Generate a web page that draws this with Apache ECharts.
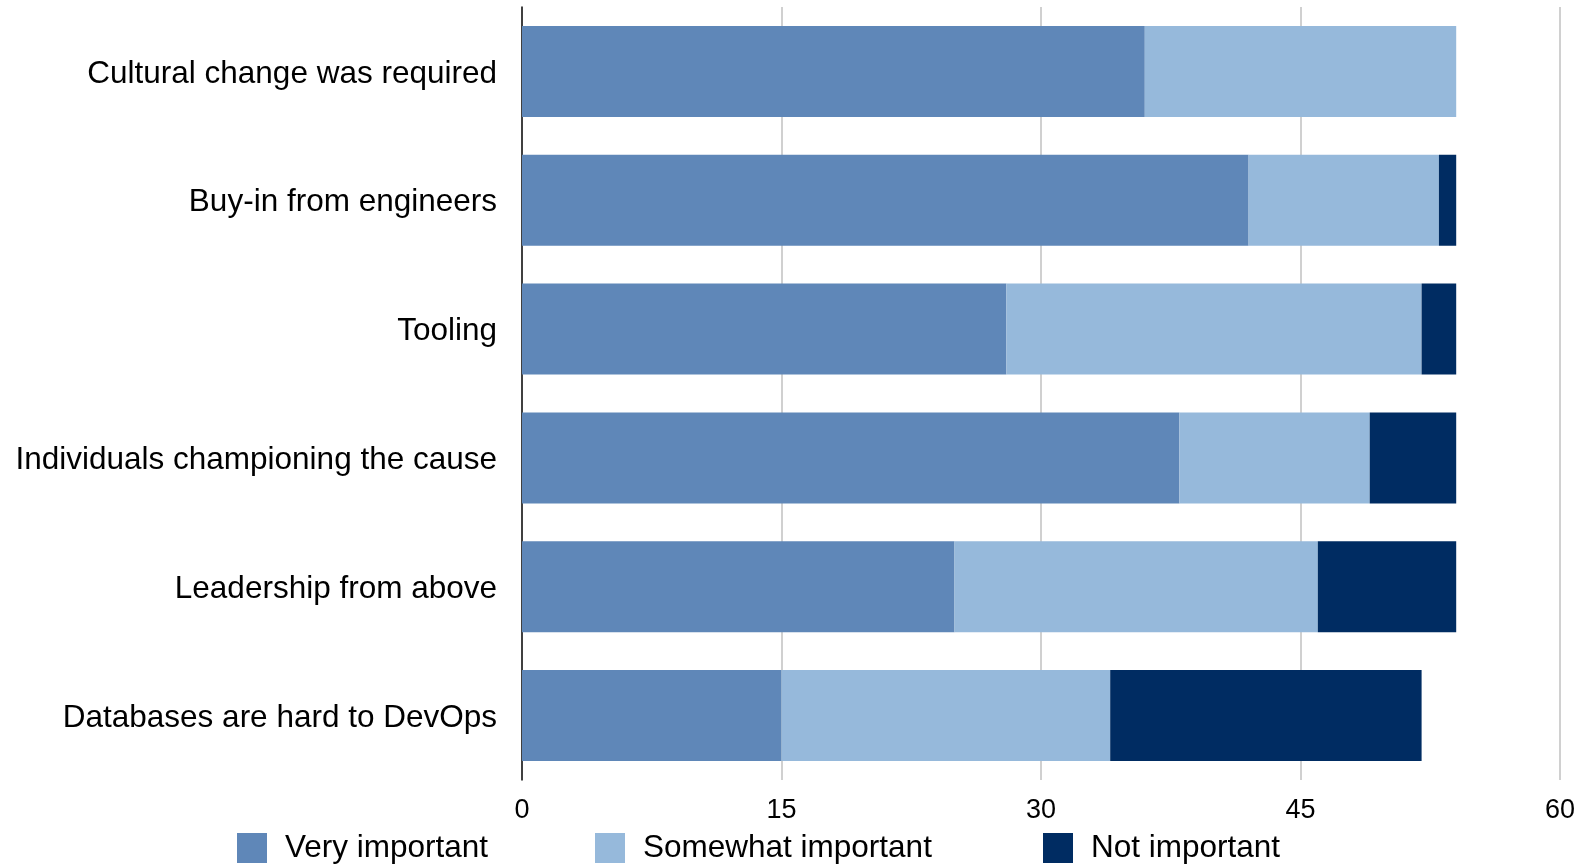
<!DOCTYPE html>
<html>
<head>
<meta charset="utf-8">
<script src="https://cdn.jsdelivr.net/npm/echarts@6/dist/echarts.min.js"></script>
<style>
  html, body { margin: 0; padding: 0; background: #fff; }
  #main { width: 1581px; height: 864px; }
</style>
</head>
<body>
<div id="main"></div>
<script>
var categories = ['Cultural change was required', 'Buy-in from engineers', 'Tooling',
  'Individuals championing the cause', 'Leadership from above', 'Databases are hard to DevOps'];
var seriesNames = ['Very important', 'Somewhat important', 'Not important'];
var veryImportant = [36, 42, 28, 38, 25, 15];
var somewhatImportant = [18, 11, 24, 11, 21, 19];
var notImportant = [0, 1, 2, 5, 8, 18];
var xTicks = { min: 0, max: 60, interval: 15 };

var font = '"Liberation Sans", Arial, Helvetica, sans-serif';
var colors = ['#5f87b8', '#96b9db', '#002c62'];
var legendLeft = [232, 590, 1038];
var chart = echarts.init(document.getElementById('main'));

function bar(i, data) {
  return {
    name: seriesNames[i], type: 'bar', stack: 'total', data: data,
    barWidth: 91, itemStyle: { color: colors[i] }, emphasis: { disabled: true }
  };
}

// one legend per item so each one sits where the reference has it
var legends = seriesNames.map(function (n, i) {
  return {
    bottom: -5, left: legendLeft[i], itemWidth: 30, itemHeight: 30,
    icon: 'rect', selectedMode: false,
    textStyle: { fontSize: 31.5, color: '#000', fontFamily: font, padding: [0, 0, 0, 13] },
    data: [n]
  };
});

chart.setOption({
  animation: false,
  textStyle: { fontFamily: font },
  grid: { left: 522, right: 21, top: 7, bottom: 84, containLabel: false },
  legend: legends,
  xAxis: {
    type: 'value', min: xTicks.min, max: xTicks.max, interval: xTicks.interval,
    axisLine: { show: false }, axisTick: { show: false },
    splitLine: { lineStyle: { color: '#c0c0c0', width: 1.5 } },
    axisLabel: { fontSize: 27, color: '#000', margin: 17, fontFamily: font }
  },
  yAxis: {
    type: 'category', data: categories, inverse: true,
    axisLine: { show: true, lineStyle: { color: '#111', width: 1.5 } },
    axisTick: { show: false },
    axisLabel: {
      margin: 25,
      formatter: function (v) { return '{a|' + v + '}'; },
      rich: { a: { fontSize: 31.5, color: '#000', fontFamily: font, padding: [5, 0, 0, 0] } }
    }
  },
  series: [
    bar(0, veryImportant),
    bar(1, somewhatImportant),
    bar(2, notImportant)
  ]
});
</script>
</body>
</html>
